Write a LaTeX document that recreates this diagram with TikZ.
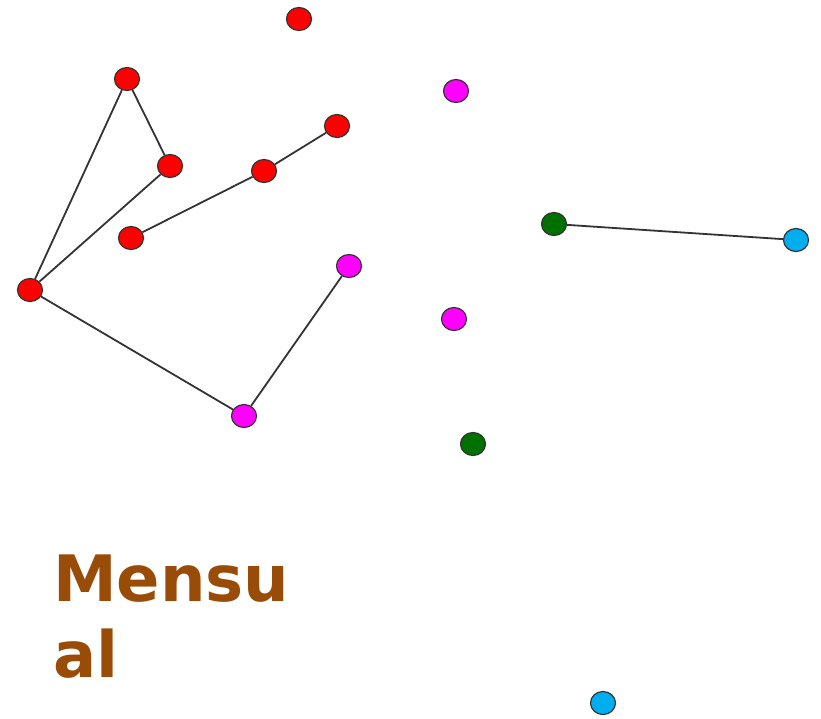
\documentclass[tikz,border=0pt]{standalone}
\usepackage{fontspec}
\setmainfont{DejaVu Sans}
\usetikzlibrary{shapes.geometric}
\definecolor{nred}{HTML}{FF0000}
\definecolor{nmag}{HTML}{FF00FF}
\definecolor{ngreen}{HTML}{007000}
\definecolor{ncyan}{HTML}{00AEEF}
\definecolor{ntext}{HTML}{994C08}
\definecolor{nedge}{HTML}{333333}
\begin{document}
\begin{tikzpicture}[x=1pt,y=-1pt,
  dot/.style={ellipse,draw=nedge,line width=1.2pt,minimum width=25pt,minimum height=23pt,inner sep=0pt},
  r/.style={dot,fill=nred},
  m/.style={dot,fill=nmag},
  g/.style={dot,fill=ngreen},
  c/.style={dot,fill=ncyan},
  link/.style={draw=nedge,line width=1.8pt}]
\useasboundingbox (0,0) rectangle (821,718);
\node[r] (r1) at (299,19) {};
\node[r] (r2) at (127,79) {};
\node[m] (m1) at (456,91) {};
\node[r] (r3) at (337,126) {};
\node[r] (r4) at (170,166) {};
\node[r] (r5) at (264,171) {};
\node[g] (g1) at (554,224) {};
\node[c] (c1) at (796,240) {};
\node[r] (r6) at (131,238) {};
\node[m] (m2) at (349,266) {};
\node[r] (r7) at (30,290) {};
\node[m] (m3) at (454,319) {};
\node[m] (m4) at (244,416) {};
\node[g] (g2) at (473,444) {};
\node[c] (c2) at (603,703) {};
\draw[link] (r2) -- (r4);
\draw[link] (r2) -- (r7);
\draw[link] (r4) -- (r7);
\draw[link] (r6) -- (r5);
\draw[link] (r5) -- (r3);
\draw[link] (r7) -- (m4);
\draw[link] (m4) -- (m2);
\draw[link] (g1) -- (c1);
\node[anchor=base west,inner sep=0pt,font=\fontsize{64}{76}\selectfont\bfseries,text=ntext,align=left] (lbl) at (53,677) {Mensu\\al};
\end{tikzpicture}
\end{document}
